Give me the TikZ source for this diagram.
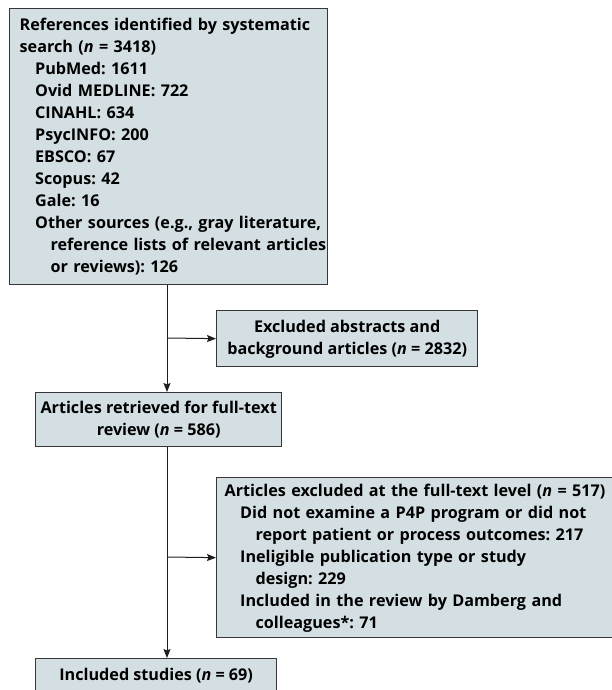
\documentclass[tikz,border=0pt]{standalone}
\usepackage{fontspec}
\setmainfont{Open Sans}
\usetikzlibrary{arrows.meta}
\definecolor{boxfill}{RGB}{212,223,227}
\definecolor{boxline}{RGB}{55,55,55}
\definecolor{connline}{RGB}{30,30,30}
\newlength\measlen
\newcommand\rowA[1]{\mbox{\strut#1}}
\newcommand\rowB[1]{\mbox{\strut\hspace*{15.5pt}#1}}
\newcommand\rowC[1]{\mbox{\strut\hspace*{31pt}#1}}
\newcommand\nn{\textit{n}}
\frenchspacing
\begin{document}
\settowidth\measlen{\fontsize{10pt}{12pt}\selectfont\bfseries References identified by systematic}%
\pgfmathsetmacro\fsz{10*287/\measlen}%
\begin{tikzpicture}[x=1pt,y=-1pt]
\tikzset{
  txt/.style={font=\fontsize{\fsz pt}{22pt}\selectfont\bfseries\frenchspacing},
  flowbox/.style={txt, draw=boxline, fill=boxfill, line width=1.3pt, anchor=north west, inner ysep=0pt},
  leftbox/.style={flowbox, align=left},
  midbox/.style={flowbox, align=center},
  conn/.style={draw=connline, line width=1pt},
  arr/.style={conn, -{Stealth[length=9pt,width=7pt,inset=1.5pt]}}
}
\useasboundingbox (0,0) rectangle (612,690);
\fill[white] (0,0) rectangle (612,690);

\node[leftbox, inner xsep=10pt, text width=298pt, minimum width=318pt, minimum height=276pt] (b1) at (9,8) {%
\rowA{References identified by systematic}\\
\rowA{search (\nn{} = 3418)}\\
\rowB{PubMed: 1611}\\
\rowB{Ovid MEDLINE: 722}\\
\rowB{CINAHL: 634}\\
\rowB{PsycINFO: 200}\\
\rowB{EBSCO: 67}\\
\rowB{Scopus: 42}\\
\rowB{Gale: 16}\\
\rowB{Other sources (e.g., gray literature,}\\
\rowC{reference lists of relevant articles}\\
\rowC{or reviews): 126}};

\node[midbox, minimum width=261pt, minimum height=56pt] (b2) at (216,310) {%
\strut Excluded abstracts and\\
\strut background articles (\nn{} = 2832)};

\node[midbox, minimum width=246pt, minimum height=54pt] (b3) at (35,392) {%
\strut Articles retrieved for full-text\\
\strut review (\nn{} = 586)};

\node[leftbox, inner xsep=8pt, text width=388pt, minimum width=404pt, minimum height=160pt] (b4) at (216,477) {%
\rowA{Articles excluded at the full-text level (\nn{} = 517)}\\
\rowB{Did not examine a P4P program or did not}\\
\rowC{report patient or process outcomes: 217}\\
\rowB{Ineligible publication type or study}\\
\rowC{design: 229}\\
\rowB{Included in the review by Damberg and}\\
\rowC{colleagues*: 71}};

\node[midbox, minimum width=241pt, minimum height=34pt] (b5) at (35,658) {%
\strut Included studies (\nn{} = 69)};

\coordinate (j1) at (167,338);
\coordinate (j2) at (167,557);
\draw[arr] (b1.south -| j1) -- (b3.north -| j1);
\draw[arr] (j1) -- (b2.west);
\draw[arr] (b3.south -| j2) -- (b5.north -| j2);
\draw[arr] (j2) -- (b4.west);
\end{tikzpicture}
\end{document}
